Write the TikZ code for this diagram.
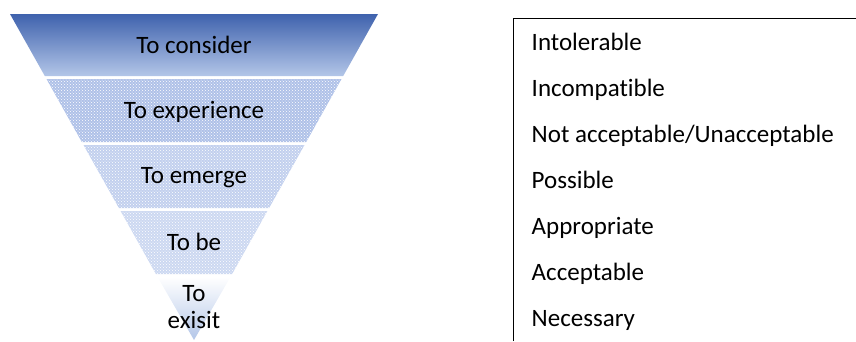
\documentclass[tikz,border=0pt]{standalone}
\usepackage{fontspec}
\setmainfont[Ligatures=NoCommon]{Carlito}
\usetikzlibrary{patterns}
\definecolor{topblue}{HTML}{3F62AD}
\definecolor{lowblue}{HTML}{B3C6E8}
\definecolor{bandA}{HTML}{AFC1E8}
\definecolor{bandB}{HTML}{C2D0EE}
\definecolor{bandC}{HTML}{CCD8F1}
\tikzset{
  lbl/.style={anchor=base, font=\fontsize{25}{30}\selectfont, inner sep=0pt},
  dotband/.style={pattern=crosshatch dots, pattern color=white},
}
\begin{document}
\begin{tikzpicture}[x=1pt,y=-1pt]
\useasboundingbox (0,0) rectangle (856,341);
% band 1
\shade[top color=topblue, bottom color=lowblue] (10,14) -- (378,14) -- (343.2,76) -- (44.8,76) -- cycle;
% band 2
\fill[bandA] (46.5,79) -- (341.5,79) -- (306.2,142) -- (81.8,142) -- cycle;
\fill[dotband] (46.5,79) -- (341.5,79) -- (306.2,142) -- (81.8,142) -- cycle;
% band 3
\fill[bandB] (83.5,145) -- (304.5,145) -- (269.1,208) -- (118.9,208) -- cycle;
\fill[dotband] (83.5,145) -- (304.5,145) -- (269.1,208) -- (118.9,208) -- cycle;
% band 4
\fill[bandC] (120.6,211) -- (267.4,211) -- (232.1,274) -- (155.9,274) -- cycle;
\fill[dotband] (120.6,211) -- (267.4,211) -- (232.1,274) -- (155.9,274) -- cycle;
% band 5
\shade[top color=white, bottom color=lowblue] (157.6,277) -- (230.4,277) -- (194,340) -- cycle;
% pyramid labels
\node[lbl] (p1) at (194,53.3) {To consider};
\node[lbl] (p2) at (194,118.3) {To experience};
\node[lbl] (p3) at (194,183.3) {To emerge};
\node[lbl] (p4) at (194,250) {To be};
\node[lbl] (p5a) at (194,301.7) {To};
\node[lbl] (p5b) at (194,328.3) {exisit};
% right box
\coordinate (bl) at (513,341);
\coordinate (tl) at (513,18.3);
\coordinate (tr) at (856,18.3);
\draw[line width=1pt] (bl) -- (tl) -- (tr);
\node[lbl, anchor=base west] (r1) at (531.5,50.7) {Intolerable};
\node[lbl, anchor=base west] (r2) at (531.5,96.7) {Incompatible};
\node[lbl, anchor=base west] (r3) at (531.5,142.7) {Not acceptable/Unacceptable};
\node[lbl, anchor=base west] (r4) at (531.5,188.3) {Possible};
\node[lbl, anchor=base west] (r5) at (531.5,234.3) {Appropriate};
\node[lbl, anchor=base west] (r6) at (531.5,280) {Acceptable};
\node[lbl, anchor=base west] (r7) at (531.5,326) {Necessary};
\end{tikzpicture}
\end{document}
